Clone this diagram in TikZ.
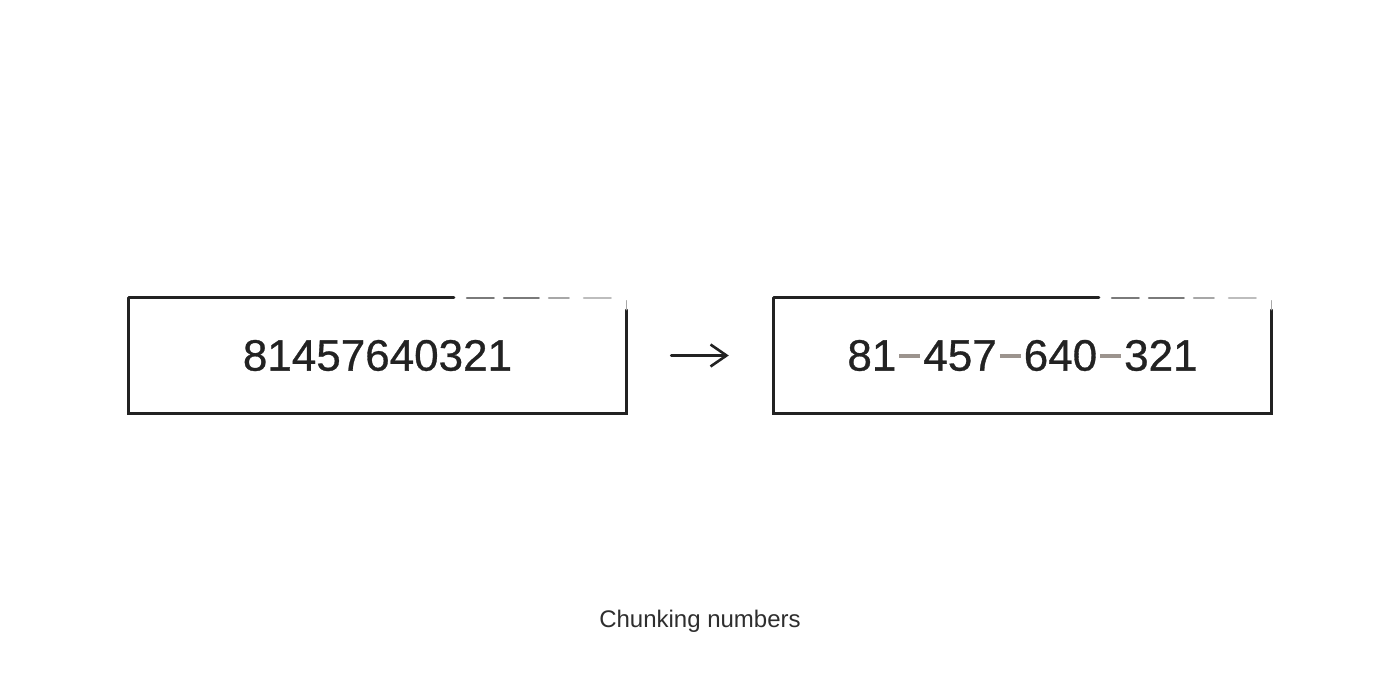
\documentclass[tikz,border=0pt]{standalone}
\usepackage{fontspec}
\setmainfont{Liberation Sans}
\usetikzlibrary{arrows.meta}
\definecolor{ink}{HTML}{222222}
\definecolor{dashgray}{HTML}{9C948E}
\definecolor{capgray}{HTML}{2E2E2E}
\tikzset{
  numbox/.style={minimum width=497pt, minimum height=115pt, inner sep=0pt, draw=none,
     font=\fontsize{44}{44}\selectfont\addfontfeature{FakeBold=0.7}, text=ink},
  edge/.style={draw=ink, line width=3pt, line cap=round},
  fadeedge/.style={draw=ink!60, line width=2pt, line cap=round},
  arr/.style={draw=ink, line width=2.6pt, line cap=round,
     -{Straight Barb[length=16pt, width=22pt, line width=2.6pt]}},
}
\newcommand{\gd}{{\color{dashgray}\kern3pt\rule[13pt]{21pt}{4pt}\kern3pt}}
\begin{document}
\begin{tikzpicture}[x=1pt, y=-1pt]
\useasboundingbox[fill=white] (0,0) rectangle (1400,693);
\node[numbox] (b1) at (377.5,355.5) {81457640321};
\node[numbox] (b2) at (1022.5,355.5) {81\gd457\gd640\gd321};
\node[font=\fontsize{24}{24}\selectfont, text=capgray] (cap) at (700,621) {Chunking numbers};
% sketchy borders
\foreach \b in {b1,b2}{
  \draw[edge] (\b.north west) -- (\b.south west) -- (\b.south east) -- ([yshift=-12pt]\b.north east);
  \draw[edge] (\b.north west) -- ([xshift=325pt]\b.north west);
  \draw[fadeedge] ([xshift=338pt]\b.north west) -- ([xshift=365pt]\b.north west);
  \draw[fadeedge] ([xshift=375pt]\b.north west) -- ([xshift=410pt]\b.north west);
  \draw[fadeedge,draw=ink!40] ([xshift=420pt]\b.north west) -- ([xshift=440pt]\b.north west);
  \draw[fadeedge,draw=ink!30] ([xshift=455pt]\b.north west) -- ([xshift=482pt]\b.north west);
  \draw[fadeedge,draw=ink!40,line width=1.4pt] ([yshift=-3pt]\b.north east) -- ([yshift=-12pt]\b.north east);
}
\draw[arr, shorten <=45pt, shorten >=45pt] (b1.east) -- (b2.west);
\end{tikzpicture}
\end{document}
